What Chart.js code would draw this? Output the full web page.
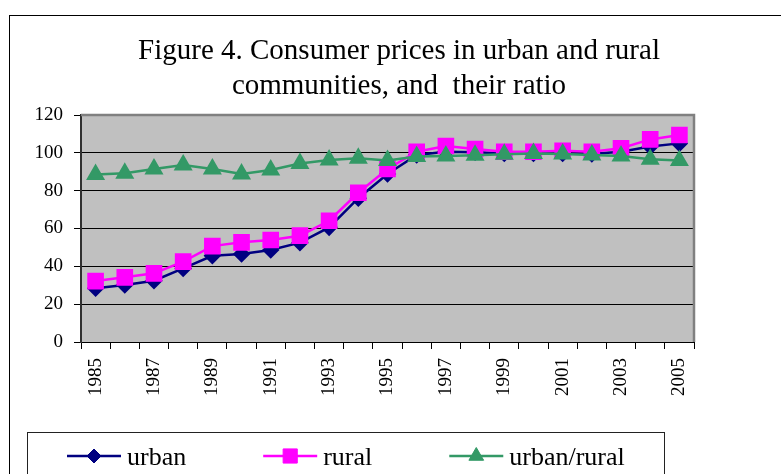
<!DOCTYPE html>
<html>
<head>
<meta charset="utf-8">
<script src="https://cdn.jsdelivr.net/npm/chart.js@4.4.1/dist/chart.umd.min.js"></script>
<style>
  html, body { margin: 0; padding: 0; background: #fff; }
  #wrap { width: 781px; height: 474px; }
</style>
</head>
<body>
<div id="wrap"><canvas id="cpiChart" width="781" height="474"></canvas></div>
<script>
const years = ["1985","1986","1987","1988","1989","1990","1991","1992","1993","1994","1995",
               "1996","1997","1998","1999","2000","2001","2002","2003","2004","2005"];
const urban = [28.4, 30.1, 32.4, 38.9, 45.6, 46.5, 48.6, 52.5, 60.6, 76.0, 88.8,
               98.9, 100.6, 100.3, 99.7, 99.7, 99.7, 99.4, 100.6, 103.3, 105.0];
const rural = [32.2, 34.2, 36.3, 42.5, 50.7, 52.7, 53.9, 56.2, 64.1, 78.9, 91.5,
               100.6, 103.6, 102.0, 100.6, 100.6, 101.1, 100.6, 102.4, 107.1, 109.4];
const ratio = [88.5, 89.2, 91.5, 93.6, 91.5, 88.8, 90.9, 94.4, 96.2, 97.1, 96.0,
               98.0, 98.3, 98.7, 99.2, 99.7, 99.4, 98.9, 98.3, 96.6, 95.9];
const yMin = 0, yMax = 120, yStep = 20;
const titleLines = ["Figure 4. Consumer prices in urban and rural", "communities, and  their ratio"];

const serif = "'Liberation Serif', 'Times New Roman', serif";

function marker(ctx, style, radius, x, y) {
  if (Chart.helpers && Chart.helpers.drawPoint) {
    Chart.helpers.drawPoint(ctx, { pointStyle: style, radius: radius, rotation: 0, borderWidth: 1 }, x, y);
  }
}

// frame, plot background, title and boxed legend (Excel look)
const excelFrame = {
  id: "excelFrame",
  beforeDraw(chart) {
    const { ctx, chartArea: a } = chart;
    ctx.save();
    ctx.fillStyle = "#fff";
    ctx.fillRect(0, 0, chart.width, chart.height);
    ctx.strokeStyle = "#000";
    ctx.lineWidth = 1;
    ctx.strokeRect(9.5, 15.5, 900, 600);
    ctx.fillStyle = "#c0c0c0";
    ctx.fillRect(a.left, a.top, a.right - a.left, a.bottom - a.top);
    ctx.restore();
  },
  beforeDatasetsDraw(chart) {
    const { ctx, chartArea: a } = chart;
    ctx.save();
    ctx.strokeStyle = "#808080";
    ctx.lineWidth = 2.5;
    ctx.beginPath();
    ctx.moveTo(a.left, a.top);
    ctx.lineTo(a.right, a.top);
    ctx.lineTo(a.right, a.bottom);
    ctx.stroke();
    ctx.restore();
  },
  afterDraw(chart) {
    const ctx = chart.ctx;
    ctx.save();
    // title
    ctx.fillStyle = "#000";
    ctx.font = "29px " + serif;
    ctx.textAlign = "center";
    ctx.textBaseline = "alphabetic";
    ctx.fillText(titleLines[0], 399, 59);
    ctx.fillText(titleLines[1], 399, 94);

    // legend
    ctx.strokeStyle = "#222";
    ctx.lineWidth = 1;
    ctx.strokeRect(27.5, 432.5, 637, 100);
    ctx.font = "26px " + serif;
    ctx.textAlign = "left";
    let x = 67;
    const ly = 456;
    chart.data.datasets.forEach(ds => {
      ctx.strokeStyle = ds.borderColor;
      ctx.lineWidth = ds.borderWidth;
      ctx.beginPath();
      ctx.moveTo(x, ly);
      ctx.lineTo(x + 54, ly);
      ctx.stroke();
      ctx.fillStyle = ds.pointBackgroundColor;
      ctx.strokeStyle = ds.pointBorderColor;
      ctx.lineWidth = 1;
      marker(ctx, ds.pointStyle, ds.pointRadius, x + 27, ly);
      ctx.fillStyle = "#000";
      ctx.fillText(ds.label, x + 60, 465);
      x += 60 + ctx.measureText(ds.label).width + 77;
    });
    ctx.restore();
  }
};

new Chart(document.getElementById("cpiChart"), {
  type: "line",
  data: {
    labels: years,
    datasets: [
      {
        label: "urban",
        data: urban,
        borderColor: "#000080",
        borderWidth: 2.5,
        pointStyle: "rectRot",
        pointRadius: 7,
        pointBackgroundColor: "#000080",
        pointBorderColor: "#000080",
        order: 2
      },
      {
        label: "rural",
        data: rural,
        borderColor: "#ff00ff",
        borderWidth: 2.5,
        pointStyle: "rect",
        pointRadius: 10,
        pointBackgroundColor: "#ff00ff",
        pointBorderColor: "#ff00ff",
        order: 1
      },
      {
        label: "urban/rural",
        data: ratio,
        borderColor: "#339966",
        borderWidth: 2.5,
        pointStyle: "triangle",
        pointRadius: 8.5,
        pointBackgroundColor: "#339966",
        pointBorderColor: "#339966",
        order: 0
      }
    ]
  },
  options: {
    responsive: false,
    animation: false,
    layout: { padding: { top: 115, right: 87, bottom: 0, left: 0 } },
    elements: { line: { tension: 0 } },
    plugins: {
      legend: { display: false },
      title: { display: false },
      tooltip: { enabled: false }
    },
    scales: {
      x: {
        type: "category",
        offset: true,
        afterFit(scale) { scale.height = 132; },
        grid: { offset: true, drawOnChartArea: false, drawTicks: true, tickLength: 7, color: "#000", lineWidth: 1 },
        border: { color: "#000", width: 1 },
        ticks: {
          autoSkip: false,
          maxRotation: 90,
          minRotation: 90,
          padding: 9,
          color: "#000",
          font: { family: serif, size: 19 },
          callback: (val, i) => (i % 2 === 0 ? years[i] : "")
        }
      },
      y: {
        min: yMin,
        max: yMax,
        afterFit(scale) { scale.width = 81; },
        grid: { color: "#000", lineWidth: 1, tickLength: 7 },
        border: { color: "#303030", width: 2 },
        ticks: {
          stepSize: yStep,
          padding: 11,
          color: "#000",
          font: { family: serif, size: 19 }
        }
      }
    }
  },
  plugins: [excelFrame]
});
</script>
</body>
</html>
